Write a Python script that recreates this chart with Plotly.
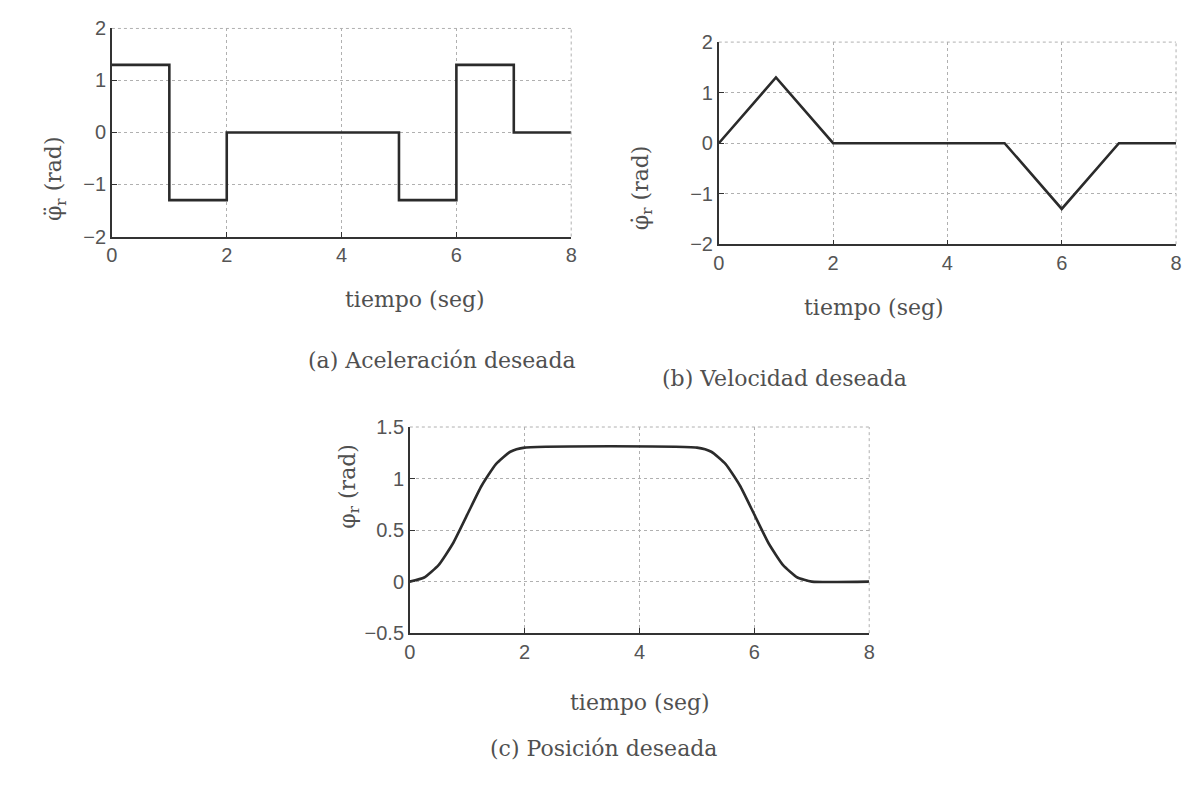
import plotly.graph_objects as go

# Desired acceleration (piecewise constant)
acc_t = [0, 1, 1, 2, 2, 5, 5, 6, 6, 7, 7, 8]
acc_v = [1.3, 1.3, -1.3, -1.3, 0, 0, -1.3, -1.3, 1.3, 1.3, 0, 0]

# Desired velocity (piecewise linear)
vel_t = [0, 1, 2, 5, 6, 7, 8]
vel_v = [0, 1.3, 0, 0, -1.3, 0, 0]

# Desired position
pos_t = [0, 0.25, 0.5, 0.75, 1, 1.25, 1.5, 1.75, 2,
         5, 5.25, 5.5, 5.75, 6, 6.25, 6.5, 6.75, 7, 8]
pos_v = [0, 0.04, 0.16, 0.37, 0.65, 0.93, 1.14, 1.26, 1.30,
         1.30, 1.26, 1.14, 0.93, 0.65, 0.37, 0.16, 0.04, 0, 0]

x_ticks = [0, 2, 4, 6, 8]
acc_ticks = [-2, -1, 0, 1, 2]
vel_ticks = [-2, -1, 0, 1, 2]
pos_ticks = [-0.5, 0, 0.5, 1, 1.5]
pos_tick_text = ["−0.5", "0", "0.5", "1", "1.5"]
acc_tick_text = ["−2", "−1", "0", "1", "2"]

LINE = "#2b2b2b"
TXT = "#505050"
SERIF = "DejaVu Serif, Liberation Serif, serif"
SANS = "Liberation Sans, Arial, sans-serif"
GRID = "#b0b0b0"

fig = go.Figure()
fig.add_trace(go.Scatter(x=acc_t, y=acc_v, mode="lines", xaxis="x", yaxis="y",
                         line=dict(color=LINE, width=2.6), showlegend=False))
fig.add_trace(go.Scatter(x=vel_t, y=vel_v, mode="lines", xaxis="x2", yaxis="y2",
                         line=dict(color=LINE, width=2.6), showlegend=False))
fig.add_trace(go.Scatter(x=pos_t, y=pos_v, mode="lines", xaxis="x3", yaxis="y3",
                         line=dict(color=LINE, width=2.6, shape="spline", smoothing=0.5),
                         showlegend=False))

def xax(domain, anchor):
    return dict(domain=domain, anchor=anchor, range=[0, 8], tickvals=x_ticks,
                showline=True, linecolor="#333", linewidth=1.6, ticks="inside",
                ticklen=5, tickcolor="#333", showgrid=True, gridcolor=GRID,
                griddash="dot", gridwidth=1, zeroline=False,
                tickfont=dict(family=SANS, size=20, color="#555"))

def yax(domain, anchor, rng, tv, tt):
    return dict(domain=domain, anchor=anchor, range=rng, tickvals=tv, ticktext=tt,
                showline=True, linecolor="#333", linewidth=1.6, ticks="inside",
                ticklen=5, tickcolor="#333", showgrid=True, gridcolor=GRID,
                griddash="dot", gridwidth=1, zeroline=False,
                tickfont=dict(family=SANS, size=20, color="#555"))

fig.update_layout(
    width=1189, height=788, margin=dict(l=0, r=0, t=0, b=0),
    paper_bgcolor="white", plot_bgcolor="white",
    xaxis=xax([0.0900, 0.4802], "y"),
    yaxis=yax([0.7056, 0.9772], "x", [-2, 2], acc_ticks, acc_tick_text),
    xaxis2=xax([0.6056, 0.9941], "y2"),
    yaxis2=yax([0.6954, 0.9594], "x2", [-2, 2], vel_ticks, acc_tick_text),
    xaxis3=xax([0.3431, 0.7334], "y3"),
    yaxis3=yax([0.1878, 0.4569], "x3", [-0.5, 1.5], pos_ticks, pos_tick_text),
)

# dotted top and right edges of each axes box
for xa, ya in [("x", "y"), ("x2", "y2"), ("x3", "y3")]:
    fig.add_shape(type="line", xref=f"{xa} domain", yref=f"{ya} domain",
                  x0=0, x1=1, y0=1, y1=1, line=dict(color=GRID, width=1, dash="dot"))
    fig.add_shape(type="line", xref=f"{xa} domain", yref=f"{ya} domain",
                  x0=1, x1=1, y0=0, y1=1, line=dict(color=GRID, width=1, dash="dot"))

def note(text, x, y, angle=0, size=22):
    fig.add_annotation(text=text, x=x / 1189, y=1 - y / 788, xref="paper", yref="paper",
                       showarrow=False, textangle=angle,
                       font=dict(family=SERIF, size=size, color=TXT))

# x-axis titles
note("tiempo (seg)", 340, 297)
note("tiempo (seg)", 950, 305)
note("tiempo (seg)", 640, 726)
# y-axis titles
note("φ̈<sub>r</sub> (rad)", 34, 127, angle=-90)
note("φ̇<sub>r</sub> (rad)", 643, 136, angle=-90)
note("φ<sub>r</sub> (rad)", 330, 535, angle=-90)
# captions
note("(a) Aceleración deseada", 303, 360)
note("(b) Velocidad deseada", 912, 378)
note("(c) Posición deseada", 604, 774)

fig.write_html("out.html")
